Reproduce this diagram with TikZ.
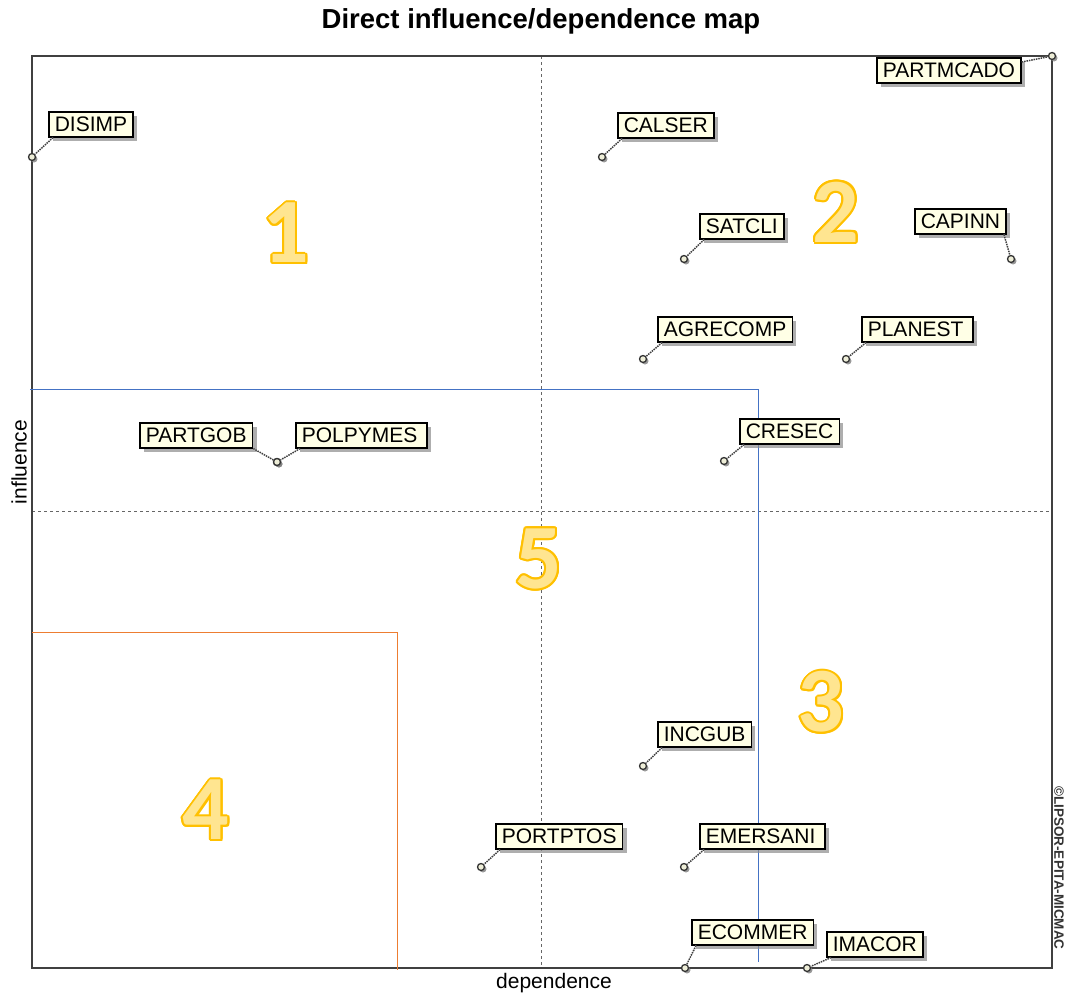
\documentclass[tikz,border=0pt]{standalone}
\usepackage{fontspec}
\setmainfont{Liberation Sans}
\newfontfamily\digitfont{Carlito}
\usepackage{contour}
\usetikzlibrary{shadows}
\contourlength{2pt}
\definecolor{labelfill}{HTML}{FFFFE6}
\definecolor{pointfill}{HTML}{EEEED8}
\definecolor{numline}{HTML}{FFC000}
\definecolor{numfill}{HTML}{FFE590}
\definecolor{splitblue}{HTML}{4472C4}
\definecolor{splitorange}{HTML}{ED7D31}
\definecolor{framegray}{HTML}{404040}

\begin{document}
\begin{tikzpicture}[x=1pt, y=-1pt, font=\fontsize{21}{25}\selectfont]

% Define styles
\tikzstyle{var} = [draw=black, line width=1.6pt, fill=labelfill, anchor=north west, inner xsep=6pt, inner ysep=0pt, minimum height=25pt, text height=15pt, text depth=0pt, drop shadow={shadow xshift=4pt, shadow yshift=-4pt, fill=black!45, opacity=0.7}]
\tikzstyle{vpoint} = [draw=black!80, line width=1.3pt, circle, fill=pointfill, minimum size=7pt, inner sep=0pt, drop shadow={shadow xshift=2pt, shadow yshift=-2pt, fill=black!50, opacity=0.8}]
\tikzstyle{lead} = [densely dotted, line width=1.4pt, black!75]
\tikzstyle{leadshadow} = [densely dotted, line width=1.4pt, black!25, shift={(3,3)}]
\tikzstyle{gridline} = [dashed, black!60, line width=0.8pt]
\tikzstyle{zone} = [font=\digitfont\bfseries\fontsize{92}{92}\selectfont]

\useasboundingbox (0,0) rectangle (1065,996);

% Frame and axes
\draw [gridline] (541,56) -- (541,968);
\draw [gridline] (32,511) -- (1052,511);
\draw [framegray, line width=2.2pt] (32,56) rectangle (1052,968);
\draw [splitblue, line width=1pt] (30,389) -| (758,962);
\draw [splitorange, line width=1pt] (32,632) -| (397,970);

\node [font=\bfseries\fontsize{27.5}{30}\selectfont] (title) at (541,21) {Direct influence/dependence map};
\node (xlab) at (554,983) {dependence};
\node [rotate=90] (ylab) at (19,462) {influence};
\node [rotate=-90, font=\bfseries\fontsize{13.5}{13.5}\selectfont, black!80, inner sep=1pt] (copy) at (1059,868) {©LIPSOR-EPITA-MICMAC};

% Zones
\node [zone] (z1) at (286,234) {\contour{numline}{\textcolor{numfill}{1}}};
\node [zone] (z2) at (836,213) {\contour{numline}{\textcolor{numfill}{2}}};
\node [zone] (z3) at (821,703) {\contour{numline}{\textcolor{numfill}{3}}};
\node [zone] (z4) at (206,811) {\contour{numline}{\textcolor{numfill}{4}}};
\node [zone] (z5) at (539,560) {\contour{numline}{\textcolor{numfill}{5}}};

% Points
\node [vpoint] (pDISIMP) at (32,157) {};
\node [vpoint] (pPARTMCADO) at (1052,56) {};
\node [vpoint] (pCALSER) at (602,157) {};
\node [vpoint] (pSATCLI) at (684,259) {};
\node [vpoint] (pCAPINN) at (1011,259) {};
\node [vpoint] (pAGRECOMP) at (643,359) {};
\node [vpoint] (pPLANEST) at (846,359) {};
\node [vpoint] (pCRESEC) at (724,461) {};
\node [vpoint] (pPARTGOB) at (277,462) {};
\node [vpoint] (pPOLPYMES) at (277,462) {};
\node [vpoint] (pINCGUB) at (643,766) {};
\node [vpoint] (pPORTPTOS) at (481,867) {};
\node [vpoint] (pEMERSANI) at (684,867) {};
\node [vpoint] (pECOMMER) at (685,968) {};
\node [vpoint] (pIMACOR) at (807,968) {};

% Labels
\node [var] (DISIMP) at (48,111) {DISIMP};
\node [var] (PARTMCADO) at (876,57) {PARTMCADO};
\node [var] (CALSER) at (617,112) {CALSER};
\node [var] (SATCLI) at (699,213) {SATCLI};
\node [var] (CAPINN) at (914,208) {CAPINN};
\node [var] (AGRECOMP) at (657,316) {AGRECOMP};
\node [var] (PLANEST) at (861,316) {PLANEST\,};
\node [var] (CRESEC) at (739,418) {CRESEC};
\node [var] (PARTGOB) at (139,422) {PARTGOB};
\node [var] (POLPYMES) at (295,422) {POLPYMES\,};
\node [var] (INCGUB) at (657,721) {INCGUB};
\node [var] (PORTPTOS) at (495,823) {PORTPTOS};
\node [var] (EMERSANI) at (699,823) {EMERSANI\,};
\node [var] (ECOMMER) at (691,919) {ECOMMER};
\node [var] (IMACOR) at (826,931) {IMACOR};

% Leaders
\foreach \v in {DISIMP,CALSER,SATCLI,AGRECOMP,PLANEST,CRESEC,POLPYMES,INCGUB,PORTPTOS,EMERSANI,ECOMMER,IMACOR} {
  \draw [leadshadow] ([xshift=5pt]\v.south west) -- (p\v);
  \draw [lead] ([xshift=5pt]\v.south west) -- (p\v);
}
\draw [leadshadow] ([yshift=-5pt]PARTMCADO.north east) -- (pPARTMCADO);
\draw [lead] ([yshift=-5pt]PARTMCADO.north east) -- (pPARTMCADO);
\draw [leadshadow] ([xshift=-3pt]CAPINN.south east) -- (pCAPINN);
\draw [lead] ([xshift=-3pt]CAPINN.south east) -- (pCAPINN);
\draw [leadshadow] (PARTGOB.south east) -- (pPARTGOB);
\draw [lead] (PARTGOB.south east) -- (pPARTGOB);

\end{tikzpicture}
\end{document}
